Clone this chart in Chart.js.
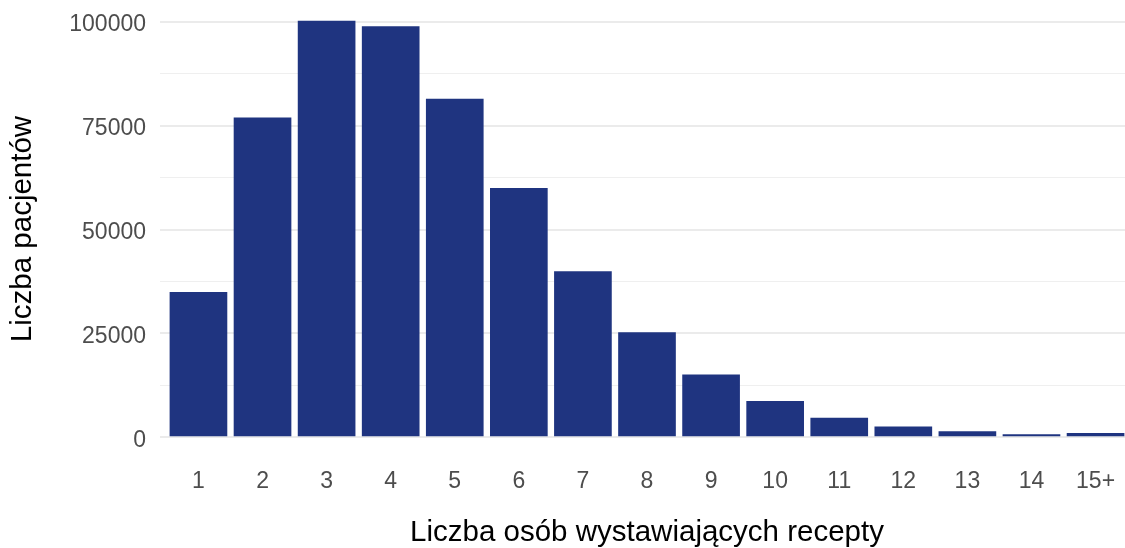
<!DOCTYPE html>
<html>
<head>
<meta charset="utf-8">
<script src="https://cdn.jsdelivr.net/npm/chart.js@4"></script>
<style>
  html, body { margin: 0; padding: 0; background: #ffffff; overflow: hidden; }
  #wrap { width: 1134px; height: 548px; }
</style>
</head>
<body>
<div id="wrap"><canvas id="c" width="1134" height="548"></canvas></div>
<script>
const categories = ["1","2","3","4","5","6","7","8","9","10","11","12","13","14","15+"];
const patients = [35000, 77000, 100300, 99000, 81500, 60000, 40000, 25300, 15100, 8700, 4700, 2600, 1400, 700, 1000];
const yTicks = [0, 12500, 25000, 37500, 50000, 62500, 75000, 87500, 100000];
const yLabelTicks = [0, 25000, 50000, 75000, 100000];
const xTitle = "Liczba osób wystawiających recepty";
const yTitle = "Liczba pacjentów";

const FONT = "'Liberation Sans', Arial, sans-serif";
const yDataMax = Math.max(...patients);
const yPad = yDataMax * 0.05;

const points = categories.map((c, i) => ({ x: i + 1, y: patients[i] }));

new Chart(document.getElementById('c'), {
  type: 'bar',
  data: {
    datasets: [{
      data: points,
      backgroundColor: '#1f3480',
      borderWidth: 0,
      categoryPercentage: 1.0,
      barPercentage: 0.9
    }]
  },
  options: {
    responsive: false,
    animation: false,
    devicePixelRatio: 1,
    layout: { padding: 0 },
    plugins: { legend: { display: false }, tooltip: { enabled: false } },
    scales: {
      x: {
        type: 'linear',
        offset: false,
        min: 0.4,
        max: categories.length + 0.6,
        grid: { display: false, drawTicks: false, offset: false },
        border: { display: false },
        afterBuildTicks: (s) => { s.ticks = categories.map((c, i) => ({ value: i + 1 })); },
        ticks: {
          autoSkip: false,
          maxRotation: 0,
          padding: 10,
          color: '#4d4d4d',
          font: { family: FONT, size: 23 },
          callback: (v) => categories[Math.round(v) - 1] ?? ''
        },
        title: {
          display: true,
          text: xTitle,
          color: '#000000',
          padding: 0,
          font: { family: FONT, size: 29.5, lineHeight: 1 }
        },
        afterFit: (s) => { s.height = 90; s.paddingLeft = 0; s.paddingRight = 0; s.paddingTop = 0; s.paddingBottom = 0; }
      },
      y: {
        type: 'linear',
        min: -yPad,
        max: yDataMax + yPad,
        afterBuildTicks: (s) => { s.ticks = yTicks.map(v => ({ value: v })); },
        grid: {
          drawTicks: false,
          color: (ctx) => (ctx.tick && yLabelTicks.includes(ctx.tick.value)) ? '#ebebeb' : '#efefef',
          lineWidth: (ctx) => (ctx.tick && yLabelTicks.includes(ctx.tick.value)) ? 2 : 1
        },
        border: { display: false },
        ticks: {
          padding: 14,
          labelOffset: 3,
          color: '#4d4d4d',
          font: { family: FONT, size: 23 },
          callback: (v) => yLabelTicks.includes(v) ? String(v) : ''
        },
        title: {
          display: true,
          text: yTitle,
          color: '#000000',
          padding: { top: 8, bottom: 0 },
          font: { family: FONT, size: 29.5, lineHeight: 1 }
        },
        afterFit: (s) => { s.width = 160; s.paddingLeft = 0; s.paddingRight = 0; s.paddingTop = 0; s.paddingBottom = 0; }
      }
    }
  }
});
</script>
</body>
</html>
